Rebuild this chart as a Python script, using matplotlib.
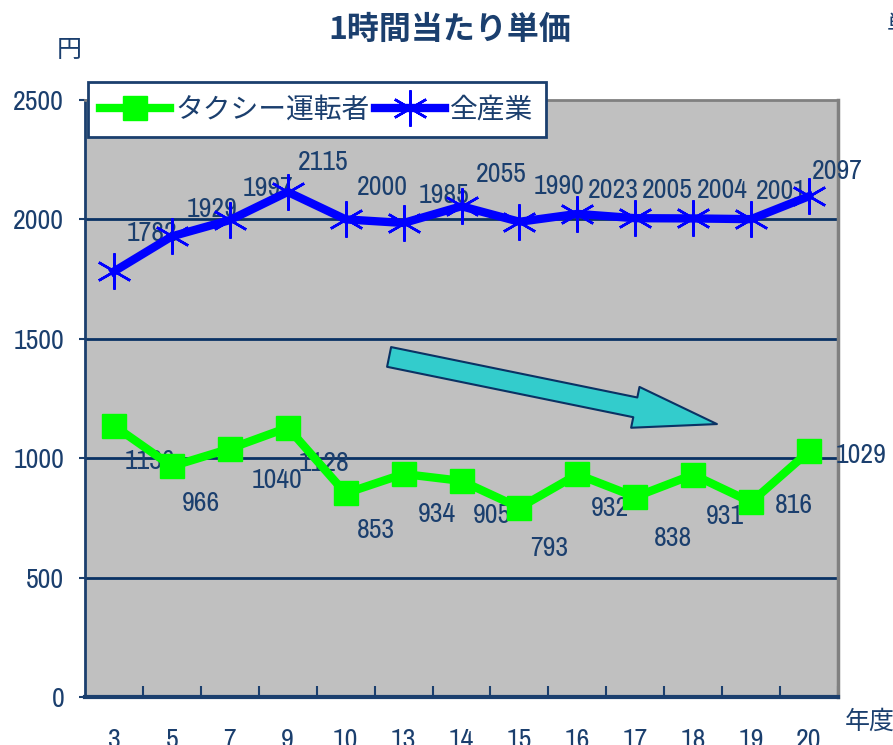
import matplotlib
matplotlib.use('Agg')
import matplotlib.pyplot as plt
from matplotlib.patches import FancyArrowPatch

years = ['3', '5', '7', '9', '10', '13', '14', '15', '16', '17', '18', '19', '20']
taxi = [1136, 966, 1040, 1128, 853, 934, 905, 793, 932, 838, 931, 816, 1029]
all_ind = [1782, 1929, 1997, 2115, 2000, 1985, 2055, 1990, 2023, 2005, 2004, 2001, 2097]

# label offsets in pixels (labels were placed by hand in the original)
taxi_off = [(11, -36), (10, -37), (22, -32), (11, -36), (11, -37), (14, -41), (11, -35),
            (11, -41), (14, -34), (19, -42), (13, -42), (24, -3), (27, -4)]
all_off = [(13, 38), (15, 27), (13, 32), (10, 29), (11, 32), (15, 27), (14, 32),
           (14, 35), (11, 23), (7, 28), (4, 28), (5, 28), (3, 25)]

navy = '#1b3f6e'
num_font = ['Archivo Narrow', 'Liberation Sans Narrow', 'Liberation Sans', 'DejaVu Sans']
jp_font = ['Noto Sans CJK JP', 'DejaVu Sans']

fig = plt.figure(figsize=(8.93, 7.45), dpi=100)
ax = fig.add_axes([0.0952, 0.0644, 0.8432, 0.8014])
ax.set_facecolor('#c0c0c0')

x = list(range(len(years)))
ax.set_xlim(-0.5, len(years) - 0.5)
ax.set_ylim(0, 2500)
ax.set_yticks([0, 500, 1000, 1500, 2000, 2500])
for yv in [500, 1000, 1500, 2000]:
    ax.axhline(yv, color='#0a3264', lw=2, zorder=1)

ax.plot(x, taxi, color='#00ff00', lw=6, marker='s', ms=17, mec='#00ff00',
        label='タクシー運転者', zorder=4)
ax.plot(x, all_ind, color='#0000ff', lw=6, marker=(6, 2, 0), ms=26, mew=1.8,
        mec='#0000ff', label='全産業', zorder=4)

for i in x:
    ax.annotate(str(taxi[i]), (i, taxi[i]), xytext=taxi_off[i], textcoords='offset pixels',
                ha='left', va='center', fontsize=20, color=navy, family=num_font, zorder=3)
    ax.annotate(str(all_ind[i]), (i, all_ind[i]), xytext=all_off[i], textcoords='offset pixels',
                ha='left', va='center', fontsize=20, color=navy, family=num_font, zorder=3)

# trend arrow
arr = FancyArrowPatch((4.75, 1424), (10.41, 1143),
                      arrowstyle='simple,head_length=6.0,head_width=3.0,tail_width=1.45',
                      mutation_scale=10, shrinkA=0, shrinkB=0,
                      fc='#33cccc', ec='#0a3264', lw=1.5, zorder=5)
ax.add_patch(arr)

ax.set_xticks(x)
ax.set_xticklabels(years, family=num_font, fontsize=20, color=navy)
ax.set_xticks([i + 0.5 for i in x], minor=True)
ax.tick_params(axis='x', which='major', length=0, pad=22)
ax.tick_params(axis='x', which='minor', direction='in', length=8, width=1.5, color=navy)
ax.tick_params(axis='y', length=4, width=1.5, color=navy, pad=11)
for lab in ax.get_yticklabels():
    lab.set_family(num_font)
    lab.set_fontsize(20)
    lab.set_color(navy)

ax.spines['left'].set_color(navy)
ax.spines['left'].set_linewidth(2)
ax.spines['bottom'].set_color(navy)
ax.spines['bottom'].set_linewidth(3)
ax.spines['top'].set_color('#808080')
ax.spines['top'].set_linewidth(2)
ax.spines['right'].set_color('#808080')
ax.spines['right'].set_linewidth(2.5)

leg = fig.legend(loc='upper left', bbox_to_anchor=(0.0985, 0.890), ncol=2,
                 prop={'family': jp_font, 'size': 20}, frameon=True, fancybox=False,
                 handlelength=2.5, handletextpad=0.2, columnspacing=0.2,
                 borderpad=0.45, borderaxespad=0)
leg.get_frame().set_edgecolor(navy)
leg.get_frame().set_linewidth(2)
leg.get_frame().set_alpha(1)
for t in leg.get_texts():
    t.set_color(navy)

fig.text(0.504, 0.960, '1時間当たり単価', ha='center', va='center', fontsize=23,
         fontweight='bold', color=navy, family=jp_font)
fig.text(0.078, 0.933, '円', ha='center', va='center', fontsize=18, color=navy, family=jp_font)
fig.text(0.974, 0.031, '年度', ha='center', va='center', fontsize=18, color=navy, family=jp_font)
fig.text(0.993, 0.966, '単', ha='left', va='center', fontsize=17, color=navy, family=jp_font)

fig.savefig('out.png', dpi=100)
